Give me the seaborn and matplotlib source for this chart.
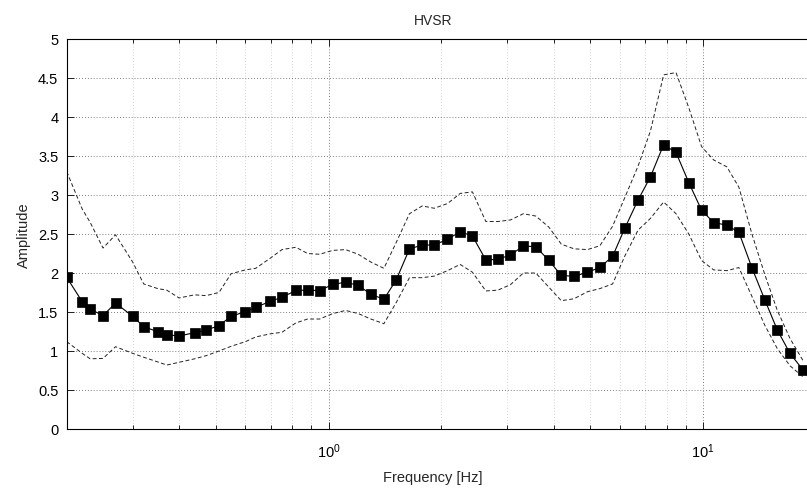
import numpy as np
import pandas as pd
import matplotlib
matplotlib.use("Agg")
import matplotlib.pyplot as plt
import seaborn as sns
from matplotlib.ticker import LogLocator, NullFormatter, FixedLocator, FormatStrFormatter

# --- dados ---
freq = [0.200, 0.220, 0.231, 0.250, 0.270, 0.300, 0.321, 0.350, 0.370, 0.399,
        0.439, 0.471, 0.510, 0.549, 0.600, 0.639, 0.699, 0.751, 0.818, 0.879,
        0.946, 1.027, 1.110, 1.200, 1.297, 1.405, 1.515, 1.644, 1.778, 1.914,
        2.077, 2.245, 2.421, 2.629, 2.830, 3.058, 3.311, 3.573, 3.870, 4.180,
        4.520, 4.910, 5.300, 5.730, 6.180, 6.700, 7.230, 7.840, 8.460, 9.150,
        9.900, 10.66, 11.57, 12.45, 13.49, 14.60, 15.77, 17.05, 18.45]

hvsr = [1.945, 1.632, 1.538, 1.453, 1.615, 1.445, 1.312, 1.247, 1.209, 1.192,
        1.235, 1.269, 1.324, 1.445, 1.504, 1.560, 1.637, 1.688, 1.776, 1.782,
        1.773, 1.855, 1.881, 1.842, 1.727, 1.663, 1.910, 2.308, 2.359, 2.359,
        2.432, 2.529, 2.474, 2.167, 2.176, 2.231, 2.346, 2.337, 2.163, 1.968,
        1.958, 2.009, 2.071, 2.214, 2.577, 2.936, 3.233, 3.645, 3.545, 3.160,
        2.805, 2.647, 2.613, 2.522, 2.067, 1.656, 1.269, 0.968, 0.760]

hvsr_sup = [3.30, 2.82, 2.65, 2.32, 2.49, 2.14, 1.86, 1.80, 1.78, 1.68,
            1.72, 1.71, 1.75, 1.99, 2.04, 2.06, 2.19, 2.30, 2.33, 2.25,
            2.24, 2.29, 2.30, 2.24, 2.14, 2.06, 2.39, 2.76, 2.86, 2.83,
            2.89, 3.02, 3.04, 2.66, 2.66, 2.68, 2.76, 2.73, 2.59, 2.37,
            2.31, 2.30, 2.35, 2.60, 2.97, 3.37, 3.82, 4.54, 4.57, 4.12,
            3.62, 3.45, 3.36, 3.10, 2.50, 1.98, 1.52, 1.16, 0.88]

hvsr_inf = [1.12, 0.97, 0.90, 0.905, 1.055, 0.97, 0.92, 0.86, 0.82, 0.855,
            0.90, 0.94, 1.00, 1.06, 1.12, 1.18, 1.22, 1.24, 1.36, 1.41,
            1.41, 1.48, 1.52, 1.48, 1.41, 1.35, 1.62, 1.94, 1.94, 1.96,
            2.03, 2.11, 2.01, 1.77, 1.78, 1.85, 2.00, 2.00, 1.82, 1.645,
            1.67, 1.76, 1.80, 1.86, 2.22, 2.55, 2.70, 2.91, 2.76, 2.50,
            2.16, 2.04, 2.03, 2.07, 1.70, 1.33, 1.03, 0.81, 0.67]

y_ticks = [0, 0.5, 1, 1.5, 2, 2.5, 3, 3.5, 4, 4.5, 5]

df = pd.DataFrame({"freq": freq, "hvsr": hvsr, "sup": hvsr_sup, "inf": hvsr_inf})

sns.set_style("white")
plt.rcParams["font.family"] = ["Liberation Sans", "DejaVu Sans"]
plt.rcParams["font.size"] = 10

W, H = 807, 489
fig = plt.figure(figsize=(W / 100, H / 100), dpi=100)
# eixo estende um pouco além da borda direita (imagem original recortada)
x0, x1, y0, y1 = 66.7, 816, 430, 40
ax = fig.add_axes([x0 / W, (H - y0) / H, (x1 - x0) / W, (y0 - y1) / H])
ax.set_xscale("log")

# curvas de desvio (tracejadas)
for col in ["sup", "inf"]:
    sns.lineplot(data=df, x="freq", y=col, ax=ax, color="#222222", linewidth=0.7,
                 linestyle=(0, (4, 2.5)), estimator=None, sort=False)

# curva média com marcadores quadrados
sns.lineplot(data=df, x="freq", y="hvsr", ax=ax, color="black", linewidth=0.8,
             marker="s", markersize=6.6, markerfacecolor="black",
             markeredgecolor="black", markeredgewidth=0.5,
             estimator=None, sort=False)

ax.set_xlim(0.2, 20)
ax.set_ylim(0, 5)
ax.yaxis.set_major_locator(FixedLocator(y_ticks))
ax.yaxis.set_major_formatter(FormatStrFormatter("%g"))
ax.xaxis.set_major_locator(LogLocator(base=10))
ax.xaxis.set_minor_locator(LogLocator(base=10, subs=np.arange(2, 10)))
ax.xaxis.set_minor_formatter(NullFormatter())

ax.set_axisbelow(True)
ax.grid(True, which="major", axis="both", color="#555555", linestyle=(0, (1, 2.5)), linewidth=0.6)
ax.grid(True, which="minor", axis="x", color="#c4c4c4", linestyle=(0, (1, 2.5)), linewidth=0.6)

ax.tick_params(which="both", direction="in", bottom=True, left=True, top=True, right=True,
               colors="black", labelsize=10.5)
ax.tick_params(which="major", length=5, width=0.6)
ax.tick_params(which="minor", length=3, width=0.6)
ax.tick_params(axis="y", pad=6)
ax.tick_params(axis="x", pad=9)

for s in ax.spines.values():
    s.set_color("black")
    s.set_linewidth(0.8)

ax.set_title("HVSR", fontsize=10, x=0.489, pad=11)
ax.set_xlabel("Frequency [Hz]", fontsize=10.5)
ax.xaxis.set_label_coords(0.489, -0.105)
ax.set_ylabel("Amplitude", fontsize=10.5, labelpad=5)

fig.savefig("out.png", dpi=100)
